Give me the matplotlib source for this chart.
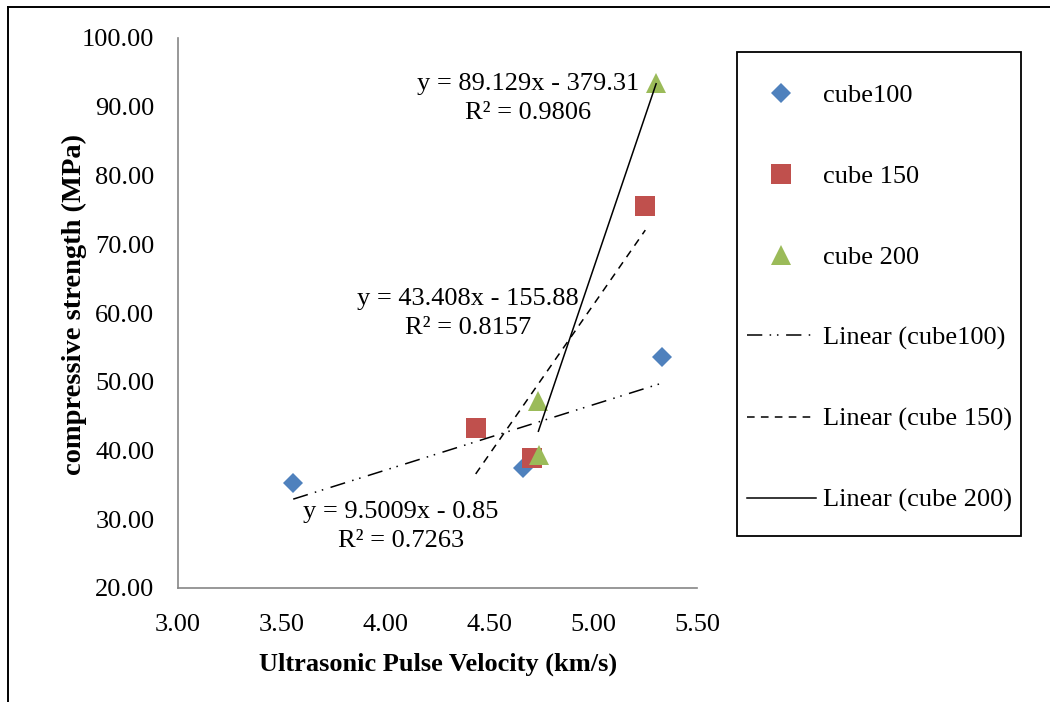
import numpy as np
import matplotlib
matplotlib.use("Agg")
import matplotlib.pyplot as plt
from matplotlib.lines import Line2D
from matplotlib.patches import Rectangle

plt.rcParams['font.family'] = ['Liberation Serif', 'DejaVu Serif']

# pulse velocity (km/s) and compressive strength (MPa) per cube size
upv_100 = [3.555, 4.663, 5.331]
fc_100 = [35.23, 37.41, 53.64]
upv_150 = [4.434, 4.707, 5.251]
fc_150 = [43.23, 38.87, 75.56]
upv_200 = [4.736, 4.740, 5.303]
fc_200 = [47.2, 39.35, 93.5]

# linear trend coefficients (slope, intercept) and R squared
slopes = [9.5009, 43.408, 89.129]
intercepts = [-0.85, -155.88, -379.31]
r2 = [0.7263, 0.8157, 0.9806]

names = ['cube100', 'cube 150', 'cube 200']
colors = ['#4F81BD', '#C0504D', '#9BBB59']
markers = ['D', 's', '^']
msizes = [10, 14, 14.5]
trend_styles = [(0, (10, 4.8, 1, 3.8, 1, 5)), (0, (5, 4.1)), '-']
# where each trend equation sits (data coords)
eq_pos = [(4.074, 28.9), (4.397, 59.9), (4.686, 91.2)]

fig = plt.figure(figsize=(10.5, 7.02), dpi=100)
ax = fig.add_axes([178 / 1050, 1 - 588 / 702, 519 / 1050, 550 / 702])

xs = [upv_100, upv_150, upv_200]
ys = [fc_100, fc_150, fc_200]

handles = []
for i in range(3):
    h = ax.plot(xs[i], ys[i], linestyle='none', marker=markers[i],
                markersize=msizes[i], color=colors[i], markeredgewidth=0,
                label=names[i], zorder=3)[0]
    handles.append(h)

line_handles = []
for i in range(3):
    xx = np.array([min(xs[i]), max(xs[i])])
    yy = slopes[i] * xx + intercepts[i]
    h = ax.plot(xx, yy, color='black', linewidth=1.1, linestyle=trend_styles[i],
                label='Linear (%s)' % names[i], zorder=4)[0]
    line_handles.append(h)
    sign = '-' if intercepts[i] < 0 else '+'
    txt = 'y = %gx %s %g\nR² = %.4f' % (slopes[i], sign, abs(intercepts[i]), r2[i])
    ax.text(eq_pos[i][0], eq_pos[i][1], txt, ha='center', va='center',
            fontsize=19, linespacing=1.42, zorder=5)

ax.set_xlim(3.0, 5.5)
ax.set_ylim(20, 100)
ax.set_xticks(np.arange(3.0, 5.51, 0.5))
ax.set_yticks(np.arange(20, 100.1, 10))
ax.xaxis.set_major_formatter(matplotlib.ticker.FormatStrFormatter('%.2f'))
ax.yaxis.set_major_formatter(matplotlib.ticker.FormatStrFormatter('%.2f'))
ax.tick_params(length=0, labelsize=19)
ax.tick_params(axis='y', pad=17)
ax.tick_params(axis='x', pad=18.5)

for side in ['top', 'right']:
    ax.spines[side].set_visible(False)
for side in ['left', 'bottom']:
    ax.spines[side].set_color('#868686')
    ax.spines[side].set_linewidth(1.2)

ax.set_xlabel('Ultrasonic Pulse Velocity (km/s)', fontsize=19, fontweight='bold')
ax.set_ylabel('compressive strength (MPa)', fontsize=20.5, fontweight='bold')
ax.xaxis.set_label_coords(0.501, -0.118)
ax.yaxis.set_label_coords(-0.176, 0.516)

leg = fig.legend(handles=handles + line_handles, loc='upper left',
                 bbox_to_anchor=(747 / 1050, 1 - 84 / 702), frameon=False,
                 fontsize=19, borderpad=0, borderaxespad=0, handlelength=2.6,
                 handletextpad=0.27, labelspacing=2.17)

# legend frame and outer chart border
fig.add_artist(Rectangle((737 / 1050, 1 - 536 / 702), 284 / 1050, 484 / 702,
                         transform=fig.transFigure, fill=False,
                         edgecolor='black', linewidth=1.3))
fig.add_artist(Line2D([8 / 1050, 1], [1 - 7 / 702, 1 - 7 / 702],
                      transform=fig.transFigure, color='black', linewidth=1.4))
fig.add_artist(Line2D([8 / 1050, 8 / 1050], [0, 1 - 7 / 702],
                      transform=fig.transFigure, color='black', linewidth=1.4))

fig.savefig('out.png', dpi=100)
